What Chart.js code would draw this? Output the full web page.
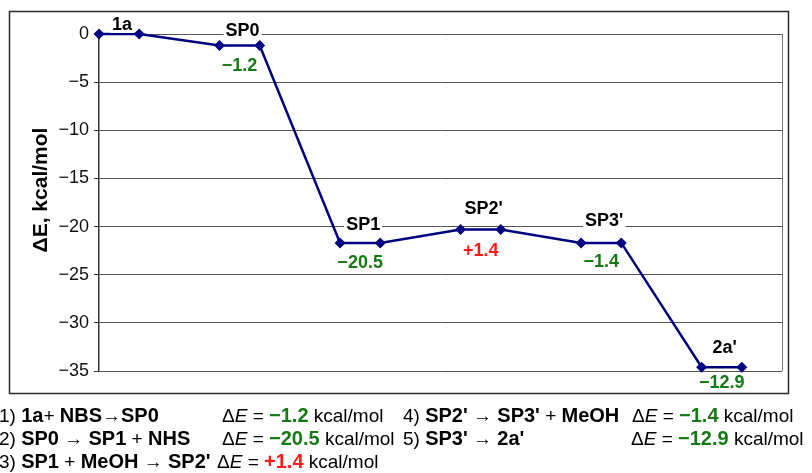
<!DOCTYPE html>
<html>
<head>
<meta charset="utf-8">
<script src="https://cdn.jsdelivr.net/npm/chart.js@4/dist/chart.umd.min.js"></script>
<style>
  html, body { margin: 0; padding: 0; background: #fff; }
  #wrap { width: 812px; height: 473px; position: relative; }
</style>
</head>
<body>
<div id="wrap"><canvas id="profile" width="812" height="473"></canvas></div>
<script>
// Stationary points along the reaction profile
const states = ['1a', 'SP0', 'SP1', "SP2'", "SP3'", "2a'"];
// Energy change of each elementary step, kcal/mol
const stepDeltas = [-1.2, -20.5, 1.4, -1.4, -12.9];
// Energy axis ticks, kcal/mol
const yTicks = [0, -5, -10, -15, -20, -25, -30, -35];
// Step equations (text runs: b = bold, n = normal)
const stepEquations = [
  [['1a', 'b'], ['+ ', 'n'], ['NBS', 'b'], ['→', 'n'], ['SP0', 'b']],
  [['SP0', 'b'], [' → ', 'n'], ['SP1', 'b'], [' + ', 'n'], ['NHS', 'b']],
  [['SP1', 'b'], [' + ', 'n'], ['MeOH', 'b'], [' → ', 'n'], ['SP2\'', 'b']],
  [['SP2\'', 'b'], [' → ', 'n'], ['SP3\'', 'b'], [' + ', 'n'], ['MeOH', 'b']],
  [['SP3\'', 'b'], [' → ', 'n'], ['2a\'', 'b']]
];

// Relative energy of every state: running total of the step energies
const levels = [0];
stepDeltas.forEach((d, i) => levels.push(Math.round((levels[i] + d) * 10) / 10));

// Each state is drawn as a short plateau of two points
const points = [];
levels.forEach((e, i) => {
  points.push({ x: 3 * i, y: e });
  points.push({ x: 3 * i + 1, y: e });
});

const FONT = '"Liberation Sans", Arial, Helvetica, sans-serif';
const NAVY = '#000080';
const GREEN = '#157a15';
const RED = '#ff1a1a';

const fmtDelta = d => (d < 0 ? '\u2212' : '+') + Math.abs(d).toFixed(1);
const deltaColor = d => (d < 0 ? GREEN : RED);

// vertical placement of the state names / step energies around each plateau
const nameDy = [-9, -15, -18, -20, -22, -19];
const deltaDy = [20, 20, 22, 19, 16];

function drawRuns(ctx, runs, x, y) {
  runs.forEach(r => {
    ctx.font = r.font;
    ctx.fillStyle = r.color || '#000';
    ctx.fillText(r.t, x, y);
    x += ctx.measureText(r.t).width;
  });
  return x;
}

const decor = {
  id: 'profileDecor',
  beforeDraw(chart) {
    const ctx = chart.ctx;
    ctx.save();
    ctx.fillStyle = '#fff';
    ctx.fillRect(0, 0, chart.width, chart.height);
    ctx.restore();
  },
  afterDraw(chart) {
    const ctx = chart.ctx;
    const area = chart.chartArea;
    const xs = chart.scales.x, ys = chart.scales.y;
    ctx.save();

    // right edge of the plot area
    ctx.strokeStyle = '#777';
    ctx.lineWidth = 1;
    ctx.beginPath();
    ctx.moveTo(Math.round(area.right) + 0.5, area.top);
    ctx.lineTo(Math.round(area.right) + 0.5, area.bottom);
    ctx.stroke();

    // outer frame
    ctx.strokeStyle = '#2a2a2a';
    ctx.lineWidth = 1.5;
    ctx.strokeRect(9.5, 11.5, 779, 382);

    // axis title
    ctx.save();
    ctx.translate(47, 190);
    ctx.rotate(-Math.PI / 2);
    ctx.font = 'bold 21px ' + FONT;
    ctx.fillStyle = '#000';
    ctx.textAlign = 'center';
    ctx.textBaseline = 'alphabetic';
    ctx.fillText('\u0394E, kcal/mol', 0, 0);
    ctx.restore();

    // state names above the plateaus, step energies below
    ctx.textAlign = 'center';
    ctx.textBaseline = 'middle';
    states.forEach((name, i) => {
      const cx = xs.getPixelForValue(3 * i + 0.5) + 3;
      const cy = ys.getPixelForValue(levels[i]) + nameDy[i];
      ctx.font = 'bold 18px ' + FONT;
      const w = ctx.measureText(name).width;
      ctx.fillStyle = '#fff';
      ctx.fillRect(cx - w / 2 - 2, cy - 9, w + 4, 17);
      ctx.fillStyle = '#000';
      ctx.fillText(name, cx, cy);
      if (i > 0) {
        const d = stepDeltas[i - 1];
        ctx.fillStyle = deltaColor(d);
        ctx.fillText(fmtDelta(d), xs.getPixelForValue(3 * i + 0.5), ys.getPixelForValue(levels[i]) + deltaDy[i - 1]);
      }
    });

    // step equations below the plot
    ctx.textAlign = 'left';
    ctx.textBaseline = 'alphabetic';
    const nf = '19px ' + FONT, bf = 'bold 20px ' + FONT, itf = 'italic 19px ' + FONT;
    const colX = [-1, -1, -1, 403, 403];
    const eqCol = [222, 222, 217, 632, 631];
    const baseY = [422, 445, 468, 422, 445];
    stepEquations.forEach((eq, i) => {
      const runs = [{ t: (i + 1) + ') ', font: nf }];
      eq.forEach(([t, w]) => runs.push({ t, font: w === 'b' ? bf : nf }));
      drawRuns(ctx, runs, colX[i], baseY[i]);
      const d = stepDeltas[i];
      drawRuns(ctx, [
        { t: '\u0394', font: nf },
        { t: 'E', font: itf },
        { t: ' = ', font: nf },
        { t: fmtDelta(d), font: bf, color: deltaColor(d) },
        { t: ' kcal/mol', font: nf }
      ], eqCol[i], baseY[i]);
    });

    ctx.restore();
  }
};

new Chart(document.getElementById('profile'), {
  type: 'line',
  data: {
    datasets: [{
      data: points,
      borderColor: NAVY,
      backgroundColor: NAVY,
      borderWidth: 2.5,
      pointStyle: 'rectRot',
      pointRadius: 5.5,
      pointHoverRadius: 5.5,
      pointBackgroundColor: NAVY,
      pointBorderColor: NAVY,
      pointBorderWidth: 0,
      tension: 0,
      clip: false
    }]
  },
  options: {
    responsive: false,
    animation: false,
    events: [],
    layout: { padding: { left: 0, top: 34, right: 30, bottom: 102 } },
    plugins: { legend: { display: false }, title: { display: false }, tooltip: { enabled: false } },
    scales: {
      x: {
        type: 'linear',
        min: 0,
        max: 17,
        display: false
      },
      y: {
        min: Math.min(...yTicks),
        max: Math.max(...yTicks),
        afterFit(scale) { scale.width = 99; },
        afterBuildTicks(scale) { scale.ticks = yTicks.map(v => ({ value: v })); },
        ticks: {
          color: '#111',
          font: { family: FONT, size: 18 },
          padding: 5,
          callback: v => (v < 0 ? '\u2212' + Math.abs(v) : String(v))
        },
        grid: {
          color: '#555',
          lineWidth: 1,
          tickLength: 5,
          tickColor: '#333',
          drawTicks: true
        },
        border: { display: true, color: '#333', width: 1.5 }
      }
    }
  },
  plugins: [decor]
});
</script>
</body>
</html>
